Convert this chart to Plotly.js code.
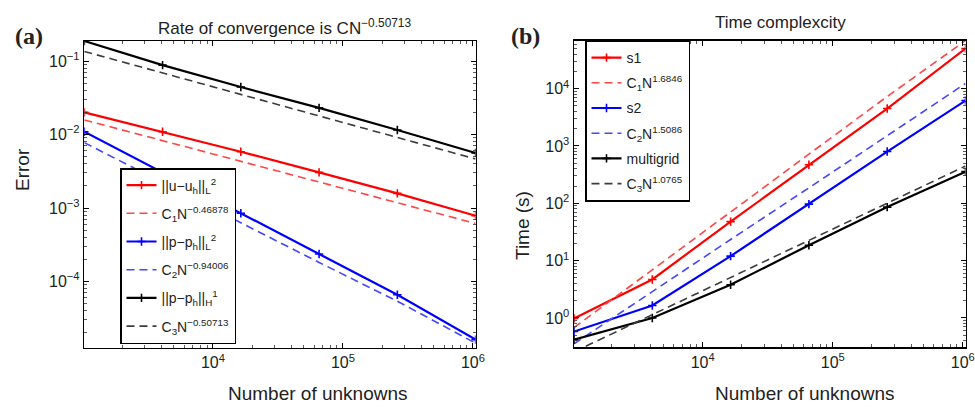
<!DOCTYPE html>
<html>
<head>
<meta charset="utf-8">
<script src="https://cdn.plot.ly/plotly-3.0.1.min.js"></script>
<style>html,body{margin:0;padding:0;background:#fff;}#chart{width:975px;height:407px;}</style>
</head>
<body>
<div id="chart"></div>
<script>
// Number of unknowns
const N = [1024, 4096, 16384, 65536, 262144, 1048576];

// Panel (a): errors
const errU_L2   = [0.020, 0.0109, 0.00583, 0.00305, 0.00158, 0.000785];
const fitU      = [0.0158, 0.00828, 0.00433, 0.00226, 0.00118, 0.000617];
const errP_L2   = [0.0109, 0.00302, 0.00085, 0.000237, 0.000066, 0.0000162];
const fitP_L2   = [0.00776, 0.00219, 0.00063, 0.000182, 0.000054, 0.0000145];
const errP_H1   = [0.187, 0.088, 0.0443, 0.023, 0.0115, 0.0056];
const fitP_H1   = [0.135, 0.0687, 0.035, 0.01786, 0.00912, 0.00465];

// Panel (b): time (s)
const timeS1    = [0.98, 4.7, 48, 470, 4500, 50000];
const fitS1     = [0.68, 7.0, 70, 720, 7300, 69000];
const timeS2    = [0.58, 1.65, 12, 97, 800, 6200];
const fitS2     = [0.355, 2.9, 23.4, 186, 1510, 12300];
const timeMG    = [0.42, 1.0, 3.8, 18.6, 86, 357];
const fitMG     = [0.257, 1.15, 5.1, 22.4, 100, 447];

// Labels
const namesA = [
  '||u\u2212u<sub>h</sub>||<sub>L</sub><sup>2</sup>',
  'C<sub>1</sub>N<sup>\u22120.46878</sup>',
  '||p\u2212p<sub>h</sub>||<sub>L</sub><sup>2</sup>',
  'C<sub>2</sub>N<sup>\u22120.94006</sup>',
  '||p\u2212p<sub>h</sub>||<sub>H</sub><sup>1</sup>',
  'C<sub>3</sub>N<sup>\u22120.50713</sup>'
];
const namesB = [
  's1', 'C<sub>1</sub>N<sup>1.6846</sup>',
  's2', 'C<sub>2</sub>N<sup>1.5086</sup>',
  'multigrid', 'C<sub>3</sub>N<sup>1.0765</sup>'
];
const xTickVals = [1e4, 1e5, 1e6];
const xTickText = ['10<sup>4</sup>', '10<sup>5</sup>', '10<sup>6</sup>'];
const yTickValsA = [1e-4, 1e-3, 1e-2, 1e-1];
const yTickTextA = ['10<sup>\u22124</sup>', '10<sup>\u22123</sup>', '10<sup>\u22122</sup>', '10<sup>\u22121</sup>'];
const yTickValsB = [1, 10, 100, 1000, 10000];
const yTickTextB = ['10<sup>0</sup>', '10<sup>1</sup>', '10<sup>2</sup>', '10<sup>3</sup>', '10<sup>4</sup>'];

const RED = 'rgb(255,0,0)', BLUE = 'rgb(0,0,255)', BLACK = 'rgb(0,0,0)';
const RED_D = 'rgb(255,70,70)', BLUE_D = 'rgb(70,70,255)', BLACK_D = 'rgb(60,60,60)';

function solid(y, name, color, xa, ya, leg, grp) {
  return {x: N, y: y, name: name, type: 'scatter', mode: 'lines+markers',
    line: {color: color, width: 2.2},
    marker: {symbol: 'cross-thin-open', size: 6, color: color, line: {color: color, width: 1.6}},
    xaxis: xa, yaxis: ya, legend: leg, legendgroup: grp};
}
function dashed(y, name, color, xa, ya, leg, grp) {
  return {x: N, y: y, name: name, type: 'scatter', mode: 'lines',
    line: {color: color, width: 1.6, dash: '8px,5px'},
    xaxis: xa, yaxis: ya, legend: leg, legendgroup: grp};
}

const data = [
  solid(errU_L2, namesA[0], RED, 'x', 'y', 'legend', 'a1'),
  dashed(fitU, namesA[1], RED_D, 'x', 'y', 'legend', 'a2'),
  solid(errP_L2, namesA[2], BLUE, 'x', 'y', 'legend', 'a3'),
  dashed(fitP_L2, namesA[3], BLUE_D, 'x', 'y', 'legend', 'a4'),
  solid(errP_H1, namesA[4], BLACK, 'x', 'y', 'legend', 'a5'),
  dashed(fitP_H1, namesA[5], BLACK_D, 'x', 'y', 'legend', 'a6'),
  solid(timeS1, namesB[0], RED, 'x2', 'y2', 'legend2', 'b1'),
  dashed(fitS1, namesB[1], RED_D, 'x2', 'y2', 'legend2', 'b2'),
  solid(timeS2, namesB[2], BLUE, 'x2', 'y2', 'legend2', 'b3'),
  dashed(fitS2, namesB[3], BLUE_D, 'x2', 'y2', 'legend2', 'b4'),
  solid(timeMG, namesB[4], BLACK, 'x2', 'y2', 'legend2', 'b5'),
  dashed(fitMG, namesB[5], BLACK_D, 'x2', 'y2', 'legend2', 'b6')
];

const W = 975, H = 407;
const px = v => v / W, py = v => 1 - v / H;
const FONT = 'Liberation Sans, Arial, sans-serif';

function axisBase() {
  return {
    type: 'log', showline: true, linecolor: '#000', linewidth: 1.5, mirror: 'ticks',
    ticks: 'inside', ticklen: 5, tickwidth: 1, tickcolor: '#000',
    showgrid: false, zeroline: false, tickmode: 'array',
    tickfont: {family: FONT, size: 16, color: '#222'},
    minor: {ticks: 'inside', ticklen: 3, tickwidth: 0.8, tickcolor: '#333', dtick: 'D1', showgrid: false}
  };
}

const layout = {
  width: W, height: H,
  margin: {l: 0, r: 0, t: 0, b: 0},
  paper_bgcolor: '#fff', plot_bgcolor: '#fff',
  font: {family: FONT},
  xaxis: Object.assign(axisBase(), {domain: [px(84.3), px(475.6)], range: [3.0103, 6.0206],
    tickvals: xTickVals, ticktext: xTickText, anchor: 'y'}),
  yaxis: Object.assign(axisBase(), {domain: [py(347.7), py(41)], range: [-4.90, -0.728],
    tickvals: yTickValsA, ticktext: yTickTextA, anchor: 'x'}),
  xaxis2: Object.assign(axisBase(), {domain: [px(574), px(965.5)], range: [3.0103, 6.0206],
    tickvals: xTickVals, ticktext: xTickText, anchor: 'y2'}),
  yaxis2: Object.assign(axisBase(), {domain: [py(347), py(40.5)], range: [-0.506, 4.84],
    tickvals: yTickValsB, ticktext: yTickTextB, anchor: 'x2'}),
  legend: {x: px(120), y: py(168), xanchor: 'left', yanchor: 'top',
    bgcolor: '#fff', bordercolor: '#000', borderwidth: 1.5,
    font: {family: FONT, size: 14, color: '#222'}, tracegroupgap: 7, traceorder: 'grouped'},
  legend2: {x: px(585), y: py(40.5), xanchor: 'left', yanchor: 'top',
    bgcolor: '#fff', bordercolor: '#000', borderwidth: 1.5,
    font: {family: FONT, size: 14, color: '#222'}, tracegroupgap: 4, traceorder: 'grouped'},
  annotations: [
    {text: 'Rate of convergence is CN<sup>\u22120.50713</sup>', xref: 'paper', yref: 'paper',
      x: px(284), y: py(27), xanchor: 'center', yanchor: 'middle', showarrow: false,
      font: {family: FONT, size: 17, color: '#222'}},
    {text: 'Time complexcity', xref: 'paper', yref: 'paper',
      x: px(780), y: py(22), xanchor: 'center', yanchor: 'middle', showarrow: false,
      font: {family: FONT, size: 17, color: '#222'}},
    {text: 'Number of unknowns', xref: 'paper', yref: 'paper',
      x: px(318), y: py(393), xanchor: 'center', yanchor: 'middle', showarrow: false,
      font: {family: FONT, size: 19, color: '#222'}},
    {text: 'Number of unknowns', xref: 'paper', yref: 'paper',
      x: px(805), y: py(393), xanchor: 'center', yanchor: 'middle', showarrow: false,
      font: {family: FONT, size: 19, color: '#222'}},
    {text: 'Error', xref: 'paper', yref: 'paper', textangle: -90,
      x: px(22), y: py(170), xanchor: 'center', yanchor: 'middle', showarrow: false,
      font: {family: FONT, size: 19, color: '#222'}},
    {text: 'Time (s)', xref: 'paper', yref: 'paper', textangle: -90,
      x: px(522), y: py(226), xanchor: 'center', yanchor: 'middle', showarrow: false,
      font: {family: FONT, size: 19, color: '#222'}},
    {text: '<b>(a)</b>', xref: 'paper', yref: 'paper',
      x: px(29), y: py(36), xanchor: 'center', yanchor: 'middle', showarrow: false,
      font: {family: 'Liberation Serif, Times New Roman, serif', size: 24, color: '#222'}},
    {text: '<b>(b)</b>', xref: 'paper', yref: 'paper',
      x: px(525), y: py(36), xanchor: 'center', yanchor: 'middle', showarrow: false,
      font: {family: 'Liberation Serif, Times New Roman, serif', size: 24, color: '#222'}}
  ]
};

Plotly.newPlot('chart', data, layout, {staticPlot: true, displayModeBar: false});
</script>
</body>
</html>
